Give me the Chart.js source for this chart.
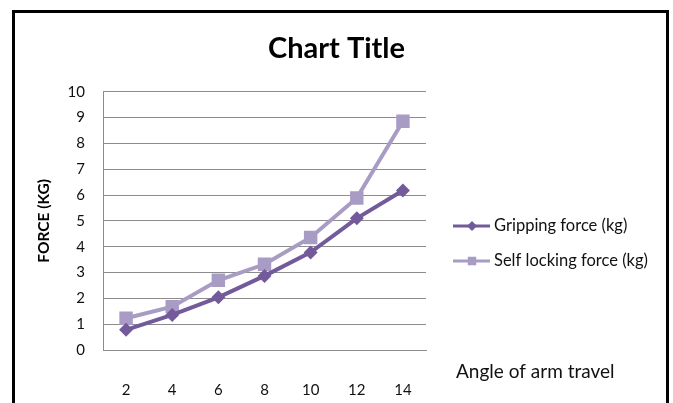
<!DOCTYPE html>
<html>
<head>
<meta charset="utf-8">
<script src="https://cdn.jsdelivr.net/npm/chart.js@4"></script>
<style>
    html, body { margin: 0; padding: 0; background: #fff; }
    #wrap { width: 673px; height: 403px; }
</style>
</head>
<body>
<div id="wrap"><canvas id="forceChart" width="673" height="403"></canvas></div>
<script>
const angles = ['2', '4', '6', '8', '10', '12', '14'];
const grippingForce = [0.78, 1.36, 2.04, 2.87, 3.78, 5.10, 6.18];
const selfLockingForce = [1.23, 1.68, 2.70, 3.32, 4.36, 5.89, 8.86];
const seriesNames = ['Gripping force (kg)', 'Self locking force (kg)'];
const forceMin = 0;
const forceMax = 10;
const forceStep = 1;

const darkPurple = '#735b9b';
const lightPurple = '#a99cc4';
const gridGray = '#8c8c8c';
const textColor = '#111';
const fontFamily = 'Lato, "Open Sans", sans-serif';

// frame round the chart, like the pasted excel object
const framePlugin = {
    id: 'frame',
    beforeDraw(chart) {
        const ctx = chart.ctx;
        ctx.save();
        ctx.fillStyle = '#fff';
        ctx.fillRect(0, 0, chart.width, chart.height);
        ctx.strokeStyle = '#000';
        ctx.lineWidth = 3;
        ctx.strokeRect(13.5, 11.5, 654, 420);
        ctx.restore();
    }
};

// excel style legend (line with marker) and the lone axis caption
const sideLegendPlugin = {
    id: 'sideLegend',
    afterDraw(chart) {
        const ctx = chart.ctx;
        const rows = [226, 261];
        ctx.save();
        chart.data.datasets.forEach(function(ds, i) {
            const y = rows[i];
            ctx.strokeStyle = ds.borderColor;
            ctx.lineWidth = 3;
            ctx.beginPath();
            ctx.moveTo(453, y);
            ctx.lineTo(490, y);
            ctx.stroke();
            ctx.fillStyle = ds.backgroundColor;
            Chart.helpers.drawPoint(ctx, {
                pointStyle: ds.pointStyle,
                radius: ds.pointStyle === 'rect' ? 6 : 5,
                borderWidth: 0
            }, 472, y);
            ctx.fillStyle = textColor;
            ctx.font = '16.5px ' + fontFamily;
            ctx.textAlign = 'left';
            ctx.textBaseline = 'middle';
            ctx.fillText(ds.label, 494, y);
        });
        ctx.font = '19px ' + fontFamily;
        ctx.fillStyle = textColor;
        ctx.textBaseline = 'middle';
        ctx.fillText('Angle of arm travel', 456, 372);
        ctx.restore();
    }
};

function initializeChart() {
    const canvas = document.getElementById('forceChart');
    const ctx = canvas.getContext('2d');

    new Chart(ctx, {
        type: 'line',
        data: {
            labels: angles,
            datasets: [{
                label: seriesNames[0],
                data: grippingForce,
                borderColor: darkPurple,
                backgroundColor: darkPurple,
                borderWidth: 4,
                pointStyle: 'rectRot',
                pointRadius: 7,
                pointBorderWidth: 0,
                tension: 0
            }, {
                label: seriesNames[1],
                data: selfLockingForce,
                borderColor: lightPurple,
                backgroundColor: lightPurple,
                borderWidth: 4,
                pointStyle: 'rect',
                pointRadius: 9.5,
                pointBorderWidth: 0,
                tension: 0
            }]
        },
        options: {
            responsive: false,
            animation: false,
            layout: { padding: 0 },
            plugins: {
                legend: { display: false },
                tooltip: { enabled: false },
                title: {
                    display: true,
                    text: 'Chart Title',
                    color: '#000',
                    font: { family: fontFamily, size: 29, weight: 'bold' },
                    padding: { top: 31, bottom: 26 }
                }
            },
            scales: {
                x: {
                    offset: true,
                    grid: { display: false },
                    border: { display: true, color: gridGray, width: 1 },
                    ticks: {
                        color: textColor,
                        padding: 23,
                        font: { family: fontFamily, size: 15 }
                    },
                    afterFit: function(scale) { scale.height = 53; }
                },
                y: {
                    min: forceMin,
                    max: forceMax,
                    grid: { color: gridGray, lineWidth: 1, drawTicks: false },
                    border: { display: true, color: gridGray, width: 1 },
                    ticks: {
                        stepSize: forceStep,
                        color: textColor,
                        padding: 18,
                        font: { family: fontFamily, size: 15 }
                    },
                    title: {
                        display: true,
                        text: 'FORCE (KG)',
                        color: '#000',
                        font: { family: fontFamily, size: 15.5, weight: 'bold' },
                        padding: { top: 35, bottom: 0 }
                    },
                    afterFit: function(scale) { scale.width = 103; }
                },
                side: {
                    type: 'linear',
                    position: 'right',
                    grid: { display: false },
                    border: { display: false },
                    ticks: { display: false },
                    afterFit: function(scale) { scale.width = 247; }
                }
            }
        },
        plugins: [framePlugin, sideLegendPlugin]
    });
}

document.addEventListener('DOMContentLoaded', initializeChart);
</script>
</body>
</html>
